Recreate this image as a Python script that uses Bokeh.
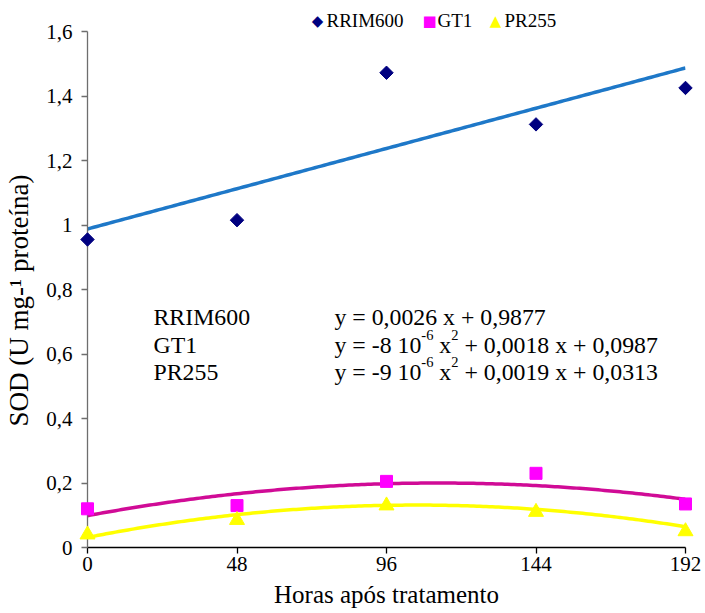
import numpy as np
from bokeh.plotting import figure
from bokeh.models import (Range1d, FixedTicker, CustomJSTickFormatter, Label)
from bokeh.core.properties import value
from bokeh.embed import file_html
from bokeh.resources import INLINE

# ---------------- data ----------------
hours = [0, 48, 96, 144, 192]
x_ticks = [0, 48, 96, 144, 192]
y_ticks = [0, 0.2, 0.4, 0.6, 0.8, 1.0, 1.2, 1.4, 1.6]
x_tick_labels = ["0", "48", "96", "144", "192"]
y_tick_labels = ["0", "0,2", "0,4", "0,6", "0,8", "1", "1,2", "1,4", "1,6"]
x_title = "Horas após tratamento"
y_title = "SOD (U mg-¹ proteína)"

rrim600 = [0.955, 1.015, 1.472, 1.312, 1.425]
gt1 = [0.120, 0.130, 0.205, 0.230, 0.135]
pr255 = [0.040, 0.085, 0.130, 0.110, 0.050]

# trend line coefficients (a x^2 + b x + c), as printed on the chart
rrim600_coef = [0.0, 0.0026, 0.9877]
gt1_coef = [-8e-6, 0.0018, 0.0987]
pr255_coef = [-9e-6, 0.0019, 0.0313]

series_names = ["RRIM600", "GT1", "PR255"]
series_colors = ["#000080", "#FF00FF", "#FFFF00"]
line_colors = ["#1E78C8", "#D00B96", "#FFFF00"]

# ---------------- layout ----------------
W_PX, H_PX = 705, 613
LEFT, RIGHT, TOP, BOTTOM = 87, 20, 31, 66
X0, X1, Y0, Y1 = 0, 192, 0, 1.6

def px_x(px):
    return X0 + (px - LEFT) * (X1 - X0) / (W_PX - LEFT - RIGHT)

def px_y(py):
    return Y0 + (H_PX - BOTTOM - py) * (Y1 - Y0) / (H_PX - TOP - BOTTOM)

FONT = "'Liberation Serif'"
p = figure(width=W_PX, height=H_PX, output_backend="svg", toolbar_location=None,
           x_range=Range1d(X0, X1), y_range=Range1d(Y0, Y1),
           min_border_left=LEFT, min_border_right=RIGHT, min_border_top=TOP, min_border_bottom=BOTTOM)
p.outline_line_color = None
p.xgrid.visible = False
p.ygrid.visible = False
p.background_fill_color = "white"
p.border_fill_color = "white"

# axes: lines and ticks from Bokeh; their texts are drawn below as serif text glyphs
p.xaxis.ticker = FixedTicker(ticks=x_ticks)
p.yaxis.ticker = FixedTicker(ticks=y_ticks)
p.xaxis.formatter = CustomJSTickFormatter(code="return '';")
p.yaxis.formatter = CustomJSTickFormatter(code="return '';")
p.xaxis.minor_tick_line_color = None
p.yaxis.minor_tick_line_color = None
p.xaxis.major_tick_in = 0
p.yaxis.major_tick_in = 0
p.xaxis.major_tick_out = 6
p.yaxis.major_tick_out = 6
p.xaxis.axis_line_width = 1.3
p.yaxis.axis_line_width = 1.3
p.xaxis.major_tick_line_width = 1.3
p.yaxis.major_tick_line_width = 1.3
p.xaxis.axis_line_color = "black"
p.xaxis.major_tick_line_color = "black"
p.yaxis.axis_line_color = "#6e6e6e"
p.yaxis.major_tick_line_color = "#6e6e6e"

def txt(xv, yv, texts, size, align="left", baseline="middle", color="black", angle=0.0, font=FONT):
    p.text(xv, yv, text=texts, text_font=value(font), text_font_size=size, angle=angle,
           text_baseline=baseline, text_align=align, text_color=color, level="overlay")

# trend lines
xs = np.linspace(0, 192, 193)
def trend(coef):
    a, b, c = coef
    return a * xs ** 2 + b * xs + c

for coef, lc in zip([rrim600_coef, gt1_coef, pr255_coef], line_colors):
    p.line(xs, trend(coef), line_color=lc, line_width=3.5)

# markers
styles = [
    dict(marker="square", angle=np.pi / 4, size=9.5),
    dict(marker="square", angle=0, size=12),
    dict(marker="triangle", angle=0, size=15),
]
for vals, st, c in zip([rrim600, gt1, pr255], styles, series_colors):
    p.scatter(hours, vals, level="overlay", fill_color=c, line_color=c, **st)

# legend (drawn by hand above the frame)
leg_symbols = ["◆", "■", "▲"]
leg_marker_px = [317, 429, 495]
leg_text_px = [326, 437, 504]
leg_y = px_y(20)
for name, sym, mx, tx, c in zip(series_names, leg_symbols, leg_marker_px, leg_text_px, series_colors):
    txt([px_x(mx)], [leg_y], [sym], "15px", align="center", color=c, font="DejaVu Sans")
    txt([px_x(tx)], [leg_y], [name], "19px")

# tick labels and axis titles
txt([px_x(72)] * len(y_ticks), y_ticks, y_tick_labels, "21px", align="right")
txt(x_ticks, [px_y(563)] * len(x_ticks), x_tick_labels, "21px", align="center")
txt([(X0 + X1) / 2], [px_y(594)], [x_title], "25px", align="center", baseline="middle")
txt([px_x(18)], [px_y(300)], [y_title], "27px", align="center", angle=np.pi / 2)

# ---------------- equation texts ----------------
W = {"0": .5, "1": .5, "2": .5, "3": .5, "4": .5, "5": .5, "6": .5, "7": .5, "8": .5, "9": .5,
     ",": .25, ".": .25, " ": .25, "=": .564, "+": .564, "-": .333, "x": .5, "y": .5}

def twidth(s, size):
    return sum(W.get(ch, .5) for ch in s) * size

EQ_SIZE = 23.8
SUP_SIZE = 14.5
name_x = px_x(153)
eq_x = px_x(334)
rows_y = [px_y(316), px_y(344), px_y(371)]

eq_parts = [
    [("y = 0,0026 x + 0,9877", False)],
    [("y = -8 10", False), ("-6", True), (" x", False), ("2", True), (" + 0,0018 x + 0,0987", False)],
    [("y = -9 10", False), ("-6", True), (" x", False), ("2", True), (" + 0,0019 x + 0,0313", False)],
]

for name, yv, parts in zip(series_names, rows_y, eq_parts):
    p.add_layout(Label(x=name_x, y=yv, text=name, text_font=FONT, text_font_size=f"{EQ_SIZE}px",
                       text_baseline="alphabetic", text_color="black"))
    off = 0.0
    for t, sup in parts:
        size = SUP_SIZE if sup else EQ_SIZE
        stripped = t.lstrip(" ")
        off += twidth(t[:len(t) - len(stripped)], EQ_SIZE)
        p.add_layout(Label(x=eq_x, y=yv, x_offset=off, y_offset=10 if sup else 0, text=stripped,
                           text_font=FONT, text_font_size=f"{size}px",
                           text_baseline="alphabetic", text_color="black"))
        off += twidth(stripped, size)

open("out.html", "w").write(file_html(p, INLINE))
